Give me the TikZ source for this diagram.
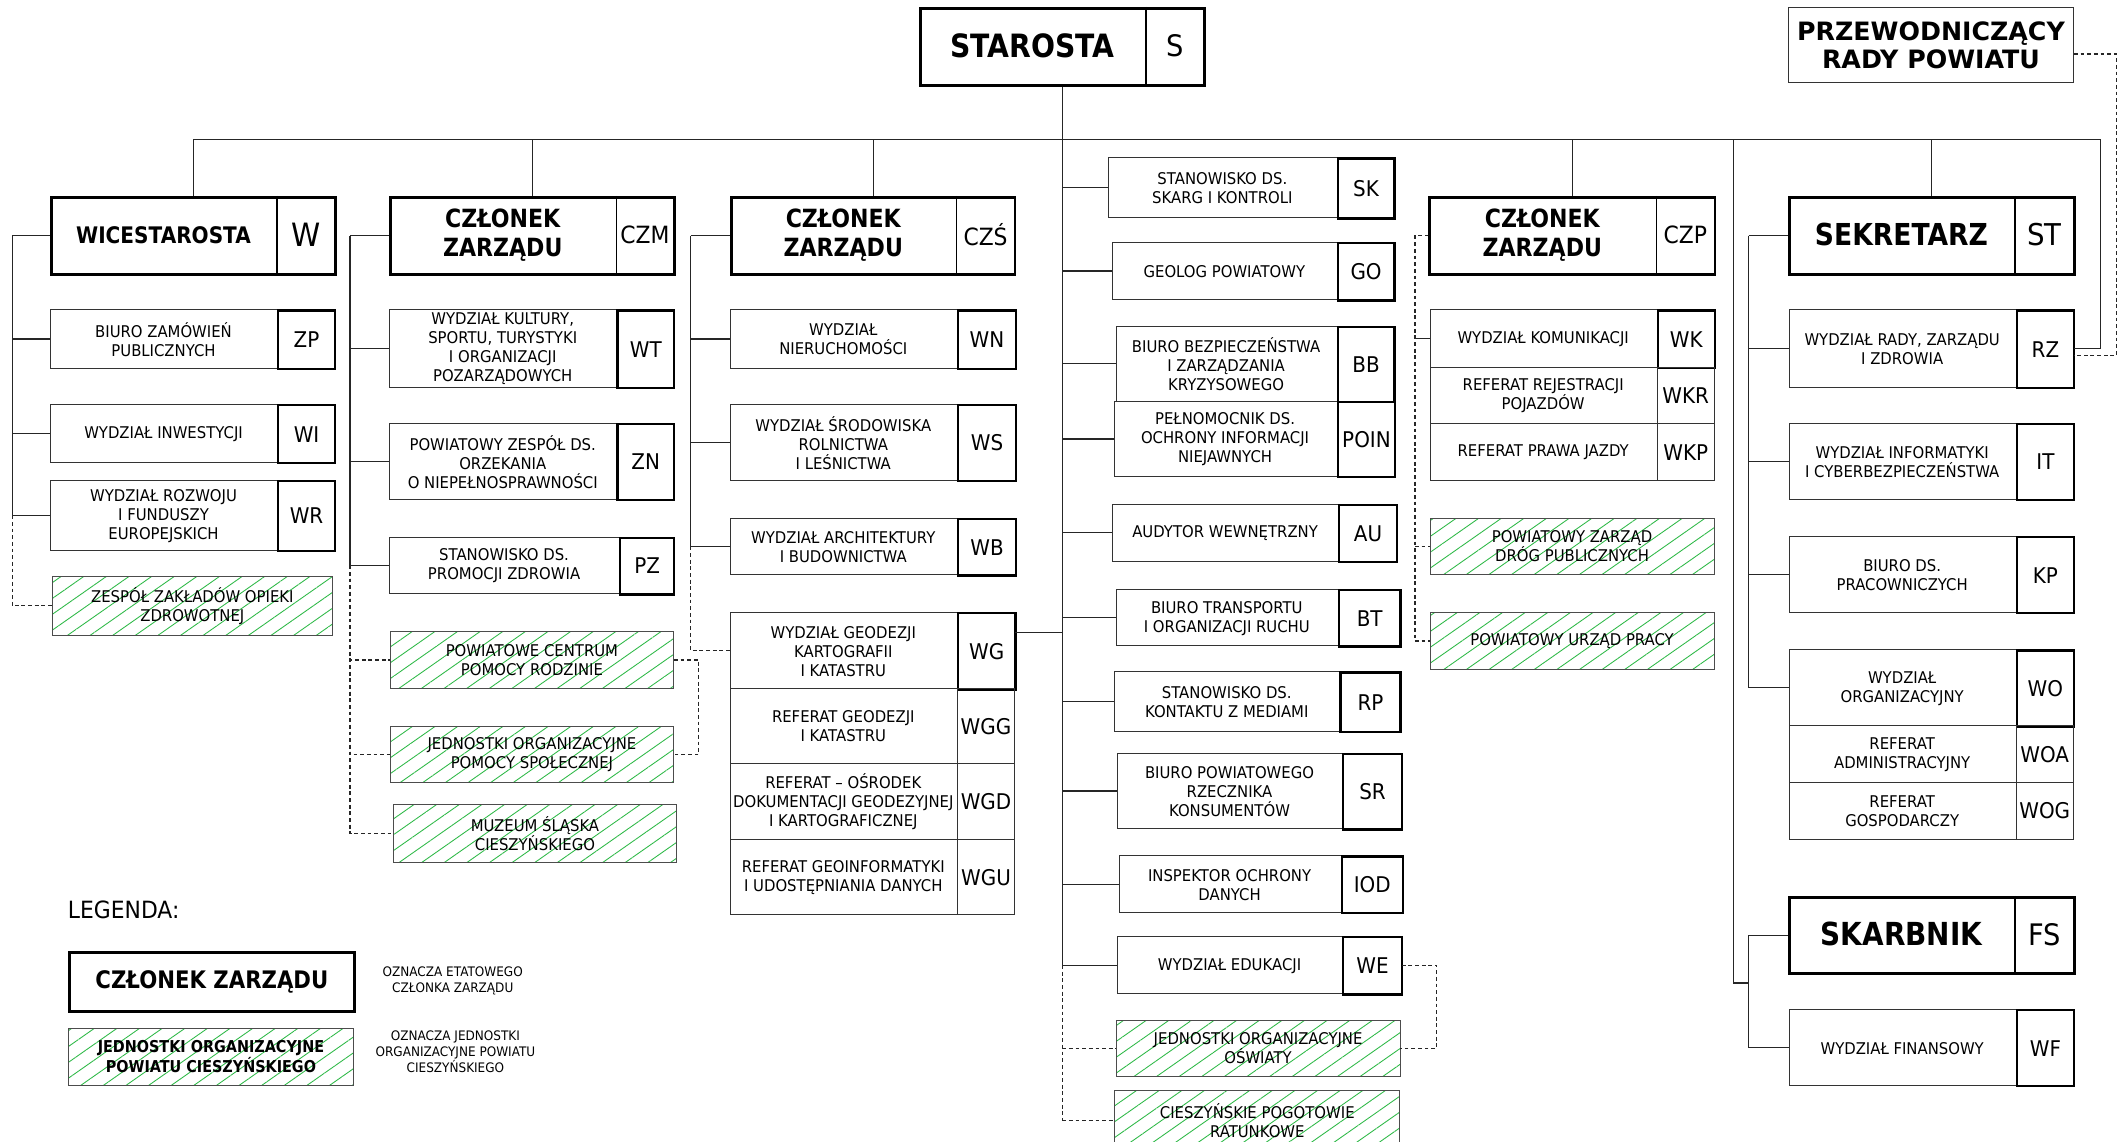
\documentclass[tikz,border=0pt]{standalone}
\usepackage{fontspec}
\setmainfont[FakeStretch=0.92]{DejaVu Sans}
\newfontfamily\headfont[FakeStretch=0.88]{DejaVu Sans}
\newfontfamily\widefont{DejaVu Sans}
\usetikzlibrary{calc,patterns.meta}
\definecolor{hatchgreen}{RGB}{45,185,70}

\newcommand\uu{0.25mm}
\newcommand\fs[2]{\fontsize{#1}{#2}\selectfont}
\newcommand\bodyfs{\fs{8.5}{10}}
\newcommand\abbrfs{\fs{11.4}{13}}

\tikzset{
  wh/.style 2 args={minimum width={(#1)*\uu}, minimum height={(#2)*\uu}},
  headbox/.style={draw, line width=1.5pt, inner sep=0pt, anchor=north west},
  headabbr/.style={inner sep=0pt, anchor=north west},
  headname/.style={align=center, inner sep=0pt, font=\headfont\bfseries},
  unitbox/.style={draw=black!80, line width=0.5pt, inner sep=0pt, anchor=north west},
  abbrbox/.style={draw, line width=1.2pt, inner sep=0pt, anchor=north west, font=\abbrfs},
  subbox/.style={draw=black!80, line width=0.5pt, inner sep=0pt, anchor=north west, font=\abbrfs},
  nametext/.style={align=center, inner sep=0pt, font=\bodyfs},
  orgbox/.style={draw=black!70, line width=0.5pt, inner sep=0pt, anchor=north west,
    pattern={Lines[angle=35, distance=2.4mm, line width=0.45pt]}, pattern color=hatchgreen,
    align=center, font=\bodyfs},
  link/.style={line width=0.6pt, black!85},
  dlink/.style={link, dash pattern=on 2pt off 1.5pt},
  divider/.style={line width=0.6pt},
}

% unit: name, x, y, width, height, divider x, text, abbreviation, abbreviation style
\newcommand\orgunit[9]{%
  \node[unitbox, wh={#4}{#5}] (#1) at (#2,#3) {};
  \node[#9, wh={#2+#4-#6}{#5}] (#1A) at (#6,#3) {#8};
  \node[nametext] (#1N) at ($(#1.north west)!0.5!(#1A.south west)$) {#7};
}

\begin{document}
\begin{tikzpicture}[x=0.25mm, y=-0.25mm]
  \fill[white] (0,0) rectangle (1568,845);
  \useasboundingbox (0,0) rectangle (1568,845);

  % top
  \node[headbox, wh={210}{57}] (star) at (680,5) {};
  \node[headabbr, wh={42}{57}, font=\fs{15.6}{18}] (starA) at (848,5) {S};
  \draw[divider] (starA.north west) -- (starA.south west);
  \node[headname, font=\headfont\bfseries\fs{16.9}{19}] (starN) at ($(star.north west)!0.5!(starA.south west)$) {STAROSTA};

  \node[unitbox, wh={211}{56}, align=center, font=\widefont\bfseries\fs{13.3}{14.7}] (przew) at (1323,5) {PRZEWODNICZĄCY\\RADY POWIATU};

  % heads
  \node[headbox, wh={210}{57}] (wice) at (37,145) {};
  \node[headabbr, wh={42}{57}, font=\fs{16.9}{19}] (wiceA) at (205,145) {W};
  \draw[divider] (wiceA.north west) -- (wiceA.south west);
  \node[headname, font=\headfont\bfseries\fs{12}{14}] (wiceN) at ($(wice.north west)!0.5!(wiceA.south west)$) {WICESTAROSTA};

  \node[headbox, wh={210}{57}] (czm) at (288,145) {};
  \node[headabbr, wh={42}{57}, font=\fs{12.5}{14}] (czmA) at (456,145) {CZM};
  \draw[divider] (czmA.north west) -- (czmA.south west);
  \node[headname, font=\headfont\bfseries\fs{13.2}{15.3}] (czmN) at ($(czm.north west)!0.5!(czmA.south west)$) {CZŁONEK\\ZARZĄDU};

  \node[headbox, wh={210}{57}] (czs) at (540,145) {};
  \node[headabbr, wh={42}{57}, font=\fs{12.5}{14}] (czsA) at (708,145) {CZŚ};
  \draw[divider] (czsA.north west) -- (czsA.south west);
  \node[headname, font=\headfont\bfseries\fs{13.2}{15.3}] (czsN) at ($(czs.north west)!0.5!(czsA.south west)$) {CZŁONEK\\ZARZĄDU};

  \node[headbox, wh={211}{57}] (czp) at (1057,145) {};
  \node[headabbr, wh={42.5}{57}, font=\fs{12.5}{14}] (czpA) at (1225.5,145) {CZP};
  \draw[divider] (czpA.north west) -- (czpA.south west);
  \node[headname, font=\headfont\bfseries\fs{13.2}{15.3}] (czpN) at ($(czp.north west)!0.5!(czpA.south west)$) {CZŁONEK\\ZARZĄDU};

  \node[headbox, wh={211}{57}] (sekr) at (1323,145) {};
  \node[headabbr, wh={43}{57}, font=\fs{15.8}{18}] (sekrA) at (1491,145) {ST};
  \draw[divider] (sekrA.north west) -- (sekrA.south west);
  \node[headname, font=\headfont\bfseries\fs{15.9}{18}] (sekrN) at ($(sekr.north west)!0.5!(sekrA.south west)$) {SEKRETARZ};

  \node[headbox, wh={211}{56}] (skarb) at (1323,663) {};
  \node[headabbr, wh={43}{56}, font=\fs{15.6}{18}] (skarbA) at (1491,663) {FS};
  \draw[divider] (skarbA.north west) -- (skarbA.south west);
  \node[headname, font=\headfont\bfseries\fs{16.7}{19}] (skarbN) at ($(skarb.north west)!0.5!(skarbA.south west)$) {SKARBNIK};

  % wicestarosta
  \orgunit{zp}{37}{229}{210}{43}{205}{BIURO ZAMÓWIEŃ\\PUBLICZNYCH}{ZP}{abbrbox}
  \orgunit{wi}{37}{299}{210}{43}{205}{WYDZIAŁ INWESTYCJI}{WI}{abbrbox}
  \orgunit{wr}{37}{355}{210}{52}{205}{WYDZIAŁ ROZWOJU\\I FUNDUSZY\\EUROPEJSKICH}{WR}{abbrbox}
  \node[orgbox, wh={207}{44}] (zzoz) at (38.5,426) {ZESPÓŁ ZAKŁADÓW OPIEKI\\ZDROWOTNEJ};

  % czlonek CZM
  \orgunit{wt}{288}{229}{210}{57}{456}{WYDZIAŁ KULTURY,\\SPORTU, TURYSTYKI\\I ORGANIZACJI\\POZARZĄDOWYCH}{WT}{abbrbox}
  \orgunit{zn}{288}{313}{210}{56}{456}{POWIATOWY ZESPÓŁ DS.\\ORZEKANIA\\O NIEPEŁNOSPRAWNOŚCI}{ZN}{abbrbox}
  \orgunit{pz}{288}{397}{210}{42}{458}{STANOWISKO DS.\\PROMOCJI ZDROWIA}{PZ}{abbrbox}
  \node[orgbox, wh={209.5}{42}] (pcpr) at (288.5,467) {POWIATOWE CENTRUM\\POMOCY RODZINIE};
  \node[orgbox, wh={209.5}{42}] (jops) at (288.5,537) {JEDNOSTKI ORGANIZACYJNE\\POMOCY SPOŁECZNEJ};
  \node[orgbox, wh={209}{43}] (muz) at (291,595) {MUZEUM ŚLĄSKA\\CIESZYŃSKIEGO};

  % czlonek CZS
  \orgunit{wn}{540}{229}{211}{43}{708}{WYDZIAŁ\\NIERUCHOMOŚCI}{WN}{abbrbox}
  \orgunit{ws}{540}{299}{211}{56}{708}{WYDZIAŁ ŚRODOWISKA\\ROLNICTWA\\I LEŚNICTWA}{WS}{abbrbox}
  \orgunit{wb}{540}{383}{211}{42}{708}{WYDZIAŁ ARCHITEKTURY\\I BUDOWNICTWA}{WB}{abbrbox}
  \orgunit{wg}{540}{452.7}{210.5}{56.7}{708}{WYDZIAŁ GEODEZJI\\KARTOGRAFII\\I KATASTRU}{WG}{abbrbox}
  \orgunit{wgg}{540}{509.4}{210.5}{55.4}{708}{REFERAT GEODEZJI\\I KATASTRU}{WGG}{subbox}
  \orgunit{wgd}{540}{564.8}{210.5}{56.1}{708}{REFERAT – OŚRODEK\\DOKUMENTACJI GEODEZYJNEJ\\I KARTOGRAFICZNEJ}{WGD}{subbox}
  \orgunit{wgu}{540}{620.9}{210.5}{55.7}{708}{REFERAT GEOINFORMATYKI\\I UDOSTĘPNIANIA DANYCH}{WGU}{subbox}

  % starosta
  \orgunit{sk}{820}{116.4}{211}{44.4}{989}{STANOWISKO DS.\\SKARG I KONTROLI}{SK}{abbrbox}
  \orgunit{go}{823}{178.8}{208}{42.7}{989}{GEOLOG POWIATOWY}{GO}{abbrbox}
  \orgunit{bb}{825.5}{241}{205.5}{55.7}{989}{BIURO BEZPIECZEŃSTWA\\I ZARZĄDZANIA\\KRYZYSOWEGO}{BB}{abbrbox}
  \orgunit{poin}{824}{296.7}{207.6}{55.5}{989}{PEŁNOMOCNIK DS.\\OCHRONY INFORMACJI\\NIEJAWNYCH}{POIN}{abbrbox}
  \orgunit{au}{823}{373}{210}{41.8}{990}{AUDYTOR WEWNĘTRZNY}{AU}{abbrbox}
  \orgunit{bt}{825.6}{435.5}{209.8}{42.1}{990}{BIURO TRANSPORTU\\I ORGANIZACJI RUCHU}{BT}{abbrbox}
  \orgunit{rp}{824.5}{496.7}{211}{44}{991}{STANOWISKO DS.\\KONTAKTU Z MEDIAMI}{RP}{abbrbox}
  \orgunit{sr}{826.6}{557}{210}{56}{993}{BIURO POWIATOWEGO\\RZECZNIKA\\KONSUMENTÓW}{SR}{abbrbox}
  \orgunit{iod}{827.7}{633}{209.5}{42}{992}{INSPEKTOR OCHRONY\\DANYCH}{IOD}{abbrbox}
  \orgunit{we}{826.6}{692.6}{210}{42.4}{993}{WYDZIAŁ EDUKACJI}{WE}{abbrbox}
  \node[orgbox, wh={210}{41.5}] (joo) at (825.6,754.8) {JEDNOSTKI ORGANIZACYJNE\\OŚWIATY};
  \node[orgbox, wh={211}{45}] (cpr) at (824.5,806.3) {CIESZYŃSKIE POGOTOWIE\\RATUNKOWE};

  % czlonek CZP
  \orgunit{wk}{1057.8}{229}{210.2}{42.3}{1226}{WYDZIAŁ KOMUNIKACJI}{WK}{abbrbox}
  \orgunit{wkr}{1057.8}{271.3}{210.2}{42}{1226}{REFERAT REJESTRACJI\\POJAZDÓW}{WKR}{subbox}
  \orgunit{wkp}{1057.8}{313.3}{210.2}{42}{1226}{REFERAT PRAWA JAZDY}{WKP}{subbox}
  \node[orgbox, wh={210.2}{42}] (pzdp) at (1057.8,383) {POWIATOWY ZARZĄD\\DRÓG PUBLICZNYCH};
  \node[orgbox, wh={210.2}{42}] (pup) at (1057.8,453) {POWIATOWY URZĄD PRACY};

  % sekretarz
  \orgunit{rz}{1323.5}{229}{210.3}{57}{1491.6}{WYDZIAŁ RADY, ZARZĄDU\\I ZDROWIA}{RZ}{abbrbox}
  \orgunit{it}{1323.5}{312.8}{210.3}{56.4}{1491.6}{WYDZIAŁ INFORMATYKI\\I CYBERBEZPIECZEŃSTWA}{IT}{abbrbox}
  \orgunit{kp}{1323.5}{396.6}{210.3}{56.4}{1491.6}{BIURO DS.\\PRACOWNICZYCH}{KP}{abbrbox}
  \orgunit{wo}{1323.5}{480.5}{210.3}{56.3}{1491.6}{WYDZIAŁ\\ORGANIZACYJNY}{WO}{abbrbox}
  \orgunit{woa}{1323.5}{536.8}{210.3}{42}{1491.6}{REFERAT\\ADMINISTRACYJNY}{WOA}{subbox}
  \orgunit{wog}{1323.5}{578.8}{210.3}{41.7}{1491.6}{REFERAT\\GOSPODARCZY}{WOG}{subbox}

  % skarbnik
  \orgunit{wf}{1323.5}{746.6}{210.3}{56.3}{1491.6}{WYDZIAŁ FINANSOWY}{WF}{abbrbox}

  % legend
  \node[anchor=west, inner sep=0pt, font=\fs{12.5}{14}] (legend) at (50,673) {LEGENDA:};
  \node[headbox, wh={210.5}{43.6}, font=\headfont\bfseries\fs{12.7}{14}] (leg1) at (50.5,704) {CZŁONEK ZARZĄDU};
  \node[nametext, font=\fs{6.9}{8.5}] (leg1T) at (335,726) {OZNACZA ETATOWEGO\\CZŁONKA ZARZĄDU};
  \node[orgbox, wh={210.5}{42.6}, font=\headfont\bfseries\fs{8.6}{9.5}] (leg2) at (50.5,760.4) {JEDNOSTKI ORGANIZACYJNE\\POWIATU CIESZYŃSKIEGO};
  \node[nametext, font=\fs{6.9}{8.5}] (leg2T) at (337,778) {OZNACZA JEDNOSTKI\\ORGANIZACYJNE POWIATU\\CIESZYŃSKIEGO};

  % connectors
  \coordinate (bus) at (785,103);
  \coordinate (busR) at (1554,103);
  \coordinate (skbus) at (1283,103);
  \coordinate (skbr) at (1294,727.4);
  \coordinate (prtop) at (1566,40);
  \coordinate (prbot) at (1566,263);
  \coordinate (wbr) at (9,0);
  \coordinate (mbr) at (259,0);
  \coordinate (pcx) at (517,0);
  \coordinate (sbr) at (511,0);
  \coordinate (ex) at (1063,0);
  \coordinate (pbr) at (1047,0);
  \coordinate (tbr) at (1294,0);
  \coordinate (wgtap) at ([yshift=3.3mm]wg.east);

  \draw[link] (star.south) -- (star.south |- we.west);
  \draw[dlink] (star.south |- we.west) -- (star.south |- cpr.west);
  \draw[link] (wice.north |- bus) -- (busR) |- (rz.east);
  \foreach \head in {wice,czm,czs,czp,sekr}
    \draw[link] (\head.north) -- (\head.north |- bus);
  \draw[link] (skbus) |- (skbr);
  \draw[link] (skarb.west) -- (skarb.west -| skbr) |- (wf.west);
  \draw[dlink] (przew.east |- prtop) -- (prtop) -- (prbot) -- (rz.east |- prbot);

  \draw[link] (wice.west) -- (wice.west -| wbr);
  \foreach \unitname in {zp,wi,wr}
    \draw[link] (wice.west -| wbr) |- (\unitname.west);
  \draw[dlink] (wr.west -| wbr) |- (zzoz.west);

  \draw[link] (czm.west) -- (czm.west -| mbr);
  \foreach \unitname in {wt,zn,pz}
    \draw[link] (czm.west -| mbr) |- (\unitname.west);
  \foreach \unitname in {pcpr,jops,muz}
    \draw[dlink] (pz.west -| mbr) |- (\unitname.west);
  \draw[dlink] (pcpr.east) -- (pcpr.east -| pcx) |- (jops.east);

  \draw[link] (czs.west) -- (czs.west -| sbr);
  \foreach \unitname in {wn,ws,wb}
    \draw[link] (czs.west -| sbr) |- (\unitname.west);
  \draw[dlink] (wb.west -| sbr) |- (wg.west);
  \draw[link] (wgtap) -- (wgtap -| star.south);

  \foreach \unitname in {sk,go,bb,poin,au,bt,rp,sr,iod,we}
    \draw[link] (star.south |- \unitname.west) -- (\unitname.west);
  \foreach \unitname in {joo,cpr}
    \draw[dlink] (star.south |- \unitname.west) -- (\unitname.west);
  \draw[dlink] (we.east) -- (we.east -| ex) |- (joo.east);

  \draw[dlink] (czp.west) -- (czp.west -| pbr) -- (pup.west -| pbr);
  \draw[link] (wk.west -| pbr) -- (wk.west);
  \foreach \unitname in {pzdp,pup}
    \draw[dlink] (\unitname.west -| pbr) -- (\unitname.west);

  \draw[link] (sekr.west) -- (sekr.west -| tbr);
  \foreach \unitname in {rz,it,kp,wo}
    \draw[link] (sekr.west -| tbr) |- (\unitname.west);
\end{tikzpicture}
\end{document}
